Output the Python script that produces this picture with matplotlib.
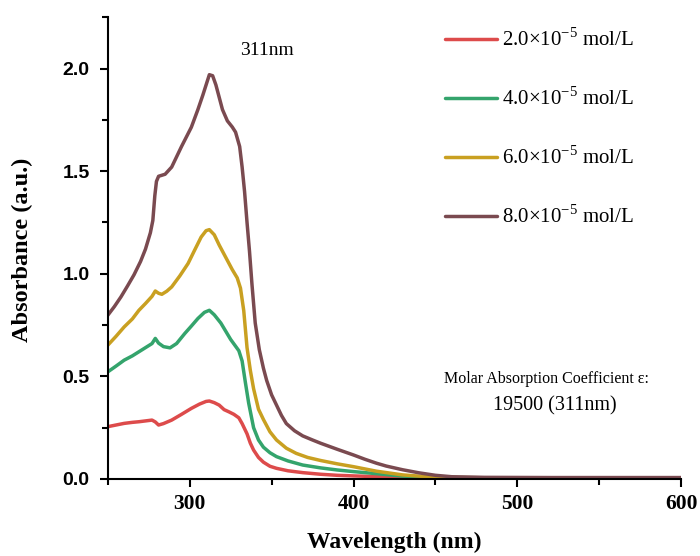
import matplotlib
matplotlib.use("Agg")
import matplotlib.pyplot as plt
from matplotlib.ticker import MultipleLocator

# Wavelength grids (nm) and absorbance values
wl_c1 = [250, 255, 260, 265, 269, 273, 277, 279, 281, 284, 289, 295, 301, 306, 310, 312, 315, 318, 321, 324, 327, 330, 332, 335, 337, 339, 342, 345, 349, 353, 360, 369, 380, 390, 400, 420, 450, 480, 520, 560, 600]
abs_c1 = [0.255, 0.263, 0.271, 0.276, 0.279, 0.283, 0.287, 0.278, 0.263, 0.27, 0.287, 0.315, 0.344, 0.365, 0.378, 0.38, 0.372, 0.36, 0.338, 0.327, 0.315, 0.298, 0.27, 0.22, 0.175, 0.141, 0.105, 0.082, 0.062, 0.052, 0.04, 0.031, 0.023, 0.018, 0.015, 0.01, 0.006, 0.005, 0.005, 0.005, 0.005]

wl_c2 = [250, 255, 260, 265, 269, 273, 277, 279, 281, 284, 288, 292, 297, 301, 305, 309, 312, 315, 319, 322, 325, 328, 330, 332, 334, 336, 339, 342, 345, 349, 353, 360, 369, 380, 390, 400, 414, 430, 450, 480, 520, 560, 600]
abs_c2 = [0.522, 0.55, 0.579, 0.6, 0.62, 0.64, 0.66, 0.685, 0.662, 0.645, 0.639, 0.66, 0.709, 0.745, 0.782, 0.812, 0.822, 0.8, 0.76, 0.72, 0.68, 0.647, 0.625, 0.575, 0.47, 0.37, 0.25, 0.19, 0.155, 0.128, 0.109, 0.088, 0.068, 0.054, 0.044, 0.036, 0.026, 0.014, 0.007, 0.006, 0.006, 0.006, 0.006]

wl_c3 = [250, 255, 260, 265, 269, 273, 277, 279, 281, 283, 286, 289, 294, 299, 303, 307, 310, 312, 315, 318, 322, 326, 329, 331, 333, 335, 337, 339, 342, 345, 349, 353, 359, 365, 372, 380, 390, 400, 414, 430, 450, 480, 520, 560, 600]
abs_c3 = [0.652, 0.695, 0.741, 0.78, 0.822, 0.855, 0.89, 0.916, 0.905, 0.9, 0.915, 0.936, 0.99, 1.05, 1.115, 1.179, 1.21, 1.215, 1.19, 1.14, 1.08, 1.02, 0.98, 0.93, 0.82, 0.64, 0.53, 0.44, 0.34, 0.29, 0.23, 0.19, 0.15, 0.125, 0.105, 0.09, 0.074, 0.06, 0.038, 0.02, 0.008, 0.006, 0.006, 0.006, 0.006]

wl_c4 = [250, 254, 258, 262, 266, 270, 273, 276, 277.5, 278.7, 279.7, 281, 285, 289, 295, 301, 305, 308, 310, 312, 314, 316, 318, 320, 323, 326, 328, 330.5, 332, 333.5, 335, 336.5, 338, 340, 342.5, 345, 347, 350, 353, 356, 359, 364, 369, 375, 380, 390, 400, 407, 414, 420, 430, 440, 450, 460, 480, 520, 560, 600]
abs_c4 = [0.798, 0.84, 0.887, 0.94, 0.995, 1.06, 1.12, 1.2, 1.26, 1.38, 1.45, 1.475, 1.485, 1.52, 1.62, 1.714, 1.8, 1.87, 1.92, 1.97, 1.965, 1.92, 1.86, 1.8, 1.745, 1.715, 1.69, 1.62, 1.52, 1.4, 1.25, 1.11, 0.95, 0.76, 0.63, 0.54, 0.48, 0.41, 0.36, 0.31, 0.27, 0.235, 0.21, 0.19, 0.174, 0.145, 0.117, 0.096, 0.077, 0.063, 0.045, 0.03, 0.018, 0.011, 0.008, 0.007, 0.007, 0.007]

series_labels = [r"2.0$\times$10$^{\mathregular{-5}}$ mol/L",
                 r"4.0$\times$10$^{\mathregular{-5}}$ mol/L",
                 r"6.0$\times$10$^{\mathregular{-5}}$ mol/L",
                 r"8.0$\times$10$^{\mathregular{-5}}$ mol/L"]
colors = ["#DD4B4B", "#34A46C", "#C9A021", "#7A4A50"]

plt.rcParams['mathtext.fontset'] = 'custom'
plt.rcParams['mathtext.rm'] = 'Liberation Serif'

fig = plt.figure(figsize=(7.0, 5.56), dpi=100)
ax = fig.add_axes([0.154, 0.1385, 0.819, 0.8305])

data = [(wl_c1, abs_c1), (wl_c2, abs_c2), (wl_c3, abs_c3), (wl_c4, abs_c4)]
for (x, y), c, lab in zip(data, colors, series_labels):
    ax.plot(x, y, color=c, lw=2.5, label=lab, solid_joinstyle='round', solid_capstyle='round')

ax.set_xlim(250, 600)
ax.set_ylim(0, 2.25)
ax.spines['top'].set_visible(False)
ax.spines['right'].set_visible(False)
for s in ['left', 'bottom']:
    ax.spines[s].set_linewidth(1.5)
ax.xaxis.set_major_locator(MultipleLocator(100))
ax.xaxis.set_minor_locator(MultipleLocator(50))
ax.yaxis.set_major_locator(MultipleLocator(0.5))
ax.yaxis.set_minor_locator(MultipleLocator(0.25))
ax.tick_params(which='major', direction='out', length=6, width=1.5)
ax.tick_params(which='minor', direction='out', length=4, width=1.5)
ax.tick_params(axis='y', which='major', pad=7)
ax.tick_params(axis='x', which='major', pad=5)
ax.set_xticks([300, 400, 500, 600])
ax.set_xticklabels(["300", "400", "500", "600"])
ax.set_yticks([0.0, 0.5, 1.0, 1.5, 2.0])
ax.set_yticklabels(["0.0", "0.5", "1.0", "1.5", "2.0"])
for lab in ax.get_yticklabels():
    lab.set_fontfamily('Liberation Sans')
    lab.set_fontweight('bold')
    lab.set_fontsize(14)
for lab in ax.get_xticklabels():
    lab.set_fontfamily('Liberation Serif')
    lab.set_fontweight('bold')
    lab.set_fontsize(15.5)

ax.set_xlabel("Wavelength (nm)", fontfamily='Liberation Serif', fontweight='bold', fontsize=17)
ax.set_ylabel("Absorbance (a.u.)", fontfamily='Liberation Serif', fontweight='bold', fontsize=17.5)
ax.xaxis.set_label_coords(0.5, -0.114)
ax.yaxis.set_label_coords(-0.131, 0.496)

leg = ax.legend(loc='upper left', bbox_to_anchor=(0.5736, 0.9942), frameon=False,
                borderaxespad=0,
                prop={'family': 'Liberation Serif', 'size': 15},
                handlelength=2.5, handletextpad=0.25, labelspacing=1.75)

ax.text(347, 2.09, "311nm", fontfamily='Liberation Serif', fontsize=14, ha='center', va='center')
ax.text(518, 0.487, "Molar Absorption Coefficient \u03b5:", fontfamily='Liberation Serif', fontsize=11.5, ha='center', va='center')
ax.text(523, 0.355, "19500 (311nm)", fontfamily='Liberation Serif', fontsize=14.5, ha='center', va='center')

fig.savefig("out.png", dpi=100)
